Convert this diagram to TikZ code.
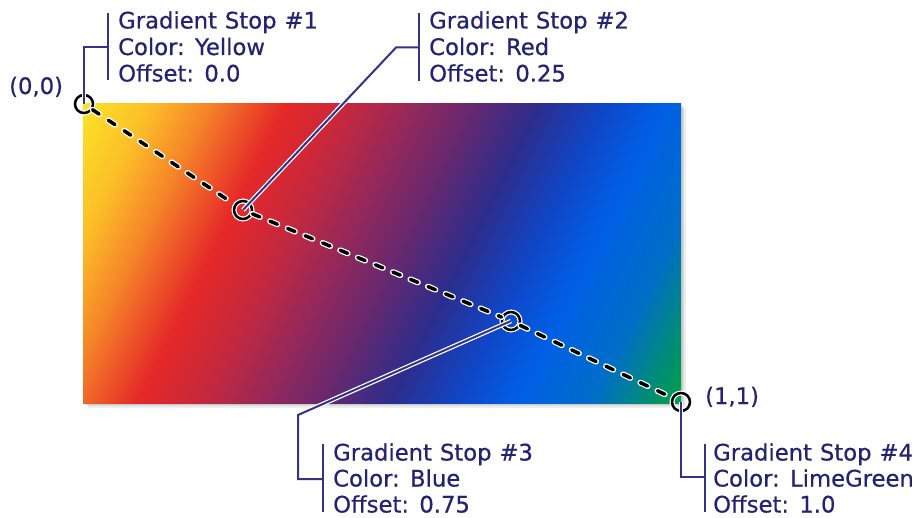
\documentclass[tikz,border=0pt]{standalone}
\usepackage{fontspec}
\setmainfont[WordSpace=1.1,FakeBold=0.5]{DejaVu Sans}
\definecolor{txt}{RGB}{35,35,115}
\definecolor{ln}{RGB}{50,50,135}
\pgfdeclarehorizontalshading{diag}{100bp}{%
rgb(0bp)=(0.98,0.894,0.157);
rgb(25bp)=(0.98,0.894,0.157);
rgb(29.5bp)=(0.988,0.745,0.157);
rgb(33.5bp)=(0.96,0.51,0.157);
rgb(38.5bp)=(0.9,0.157,0.157);
rgb(42.5bp)=(0.784,0.157,0.235);
rgb(47bp)=(0.588,0.157,0.353);
rgb(51bp)=(0.41,0.157,0.43);
rgb(55.5bp)=(0.176,0.176,0.55);
rgb(60bp)=(0.06,0.275,0.784);
rgb(64bp)=(0,0.373,0.9);
rgb(69bp)=(0,0.43,0.784);
rgb(72.5bp)=(0,0.55,0.47);
rgb(75bp)=(0,0.627,0.275);
rgb(100bp)=(0,0.627,0.275)}
\tikzset{
  lbl/.style={anchor=base west, inner sep=0pt, text=txt, font=\fontsize{22.7}{26}\selectfont},
  ring/.style={circle, draw=black, line width=2.5pt, minimum size=18pt, inner sep=0pt,
    preaction={draw=white, line width=5pt}},
  leader/.style={draw=ln, line width=2pt, preaction={draw=white, line width=4.5pt}},
  brk/.style={draw=ln, line width=2pt},
  dashln/.style={draw=black, line width=3.5pt, line cap=round, dash pattern=on 8pt off 11pt,
    preaction={draw=white, line width=6pt, line cap=round, dash pattern=on 8pt off 11pt}}
}
\begin{document}
\begin{tikzpicture}[x=1pt,y=-1pt]
\useasboundingbox[fill=white] (0,0) rectangle (918,518);
% shadow
\foreach \o in {1.5,3,4.5}{
  \fill[black, opacity=0.07] (83+\o,104+\o) rectangle (681+\o,403+\o);
}
% gradient rectangle
\begin{scope}
  \clip (83,104) rectangle (681,403);
  \shade[shading=diag, shading angle=-26.565] (47.7,-80.8) rectangle (716.3,587.8);
\end{scope}
% stop circles
\node[ring] (c1) at (84,104) {};
\node[ring] (c2) at (243,210) {};
\node[ring] (c3) at (511,321) {};
\node[ring] (c4) at (681,402) {};
% dashed gradient axis
\draw[dashln] (c1) -- (c2);
\draw[dashln] (c2) -- (c3);
\draw[dashln] (c3) -- (c4);
% bend points and brackets
\coordinate (k1) at (84,47);
\coordinate (b1) at (108,47);
\coordinate (b1t) at (108,13);
\coordinate (b1b) at (108,80);
\coordinate (k2) at (396,47.5);
\coordinate (b2) at (419,47.5);
\coordinate (b2t) at (419,13);
\coordinate (b2b) at (419,81);
\coordinate (k3) at (298,415);
\coordinate (k3b) at (298,479);
\coordinate (b3) at (323,479);
\coordinate (b3t) at (323,444);
\coordinate (b3b) at (323,512);
\coordinate (k4) at (681,477);
\coordinate (b4) at (705,477);
\coordinate (b4t) at (705,444);
\coordinate (b4b) at (705,512);
% leaders
\draw[leader] (c1.center) -- (k1) -- (b1);
\draw[leader] (c2.center) -- (k2) -- (b2);
\draw[leader] (c3.center) -- (k3) -- (k3b) -- (b3);
\draw[leader] (c4.center) -- (k4) -- (b4);
\draw[brk] (b1t) -- (b1b);
\draw[brk] (b2t) -- (b2b);
\draw[brk] (b3t) -- (b3b);
\draw[brk] (b4t) -- (b4b);
% texts
\node[lbl] (t1a) at (118,28.5) {Gradient Stop \#1};
\node[lbl] (t1b) at (118,55) {Color: Yellow};
\node[lbl] (t1c) at (118,81.5) {Offset: 0.0};
\node[lbl] (t2a) at (429,28.5) {Gradient Stop \#2};
\node[lbl] (t2b) at (429,55) {Color: Red};
\node[lbl] (t2c) at (429,81.5) {Offset: 0.25};
\node[lbl] (t3a) at (333,460.5) {Gradient Stop \#3};
\node[lbl] (t3b) at (333,486.5) {Color: Blue};
\node[lbl] (t3c) at (333,512.5) {Offset: 0.75};
\node[lbl] (t4a) at (713,460.5) {Gradient Stop \#4};
\node[lbl] (t4b) at (713,486.5) {Color: LimeGreen};
\node[lbl] (t4c) at (713,512.5) {Offset: 1.0};
\node[lbl] (o00) at (9,94) {(0,0)};
\node[lbl] (o11) at (705,404) {(1,1)};
\end{tikzpicture}
\end{document}
